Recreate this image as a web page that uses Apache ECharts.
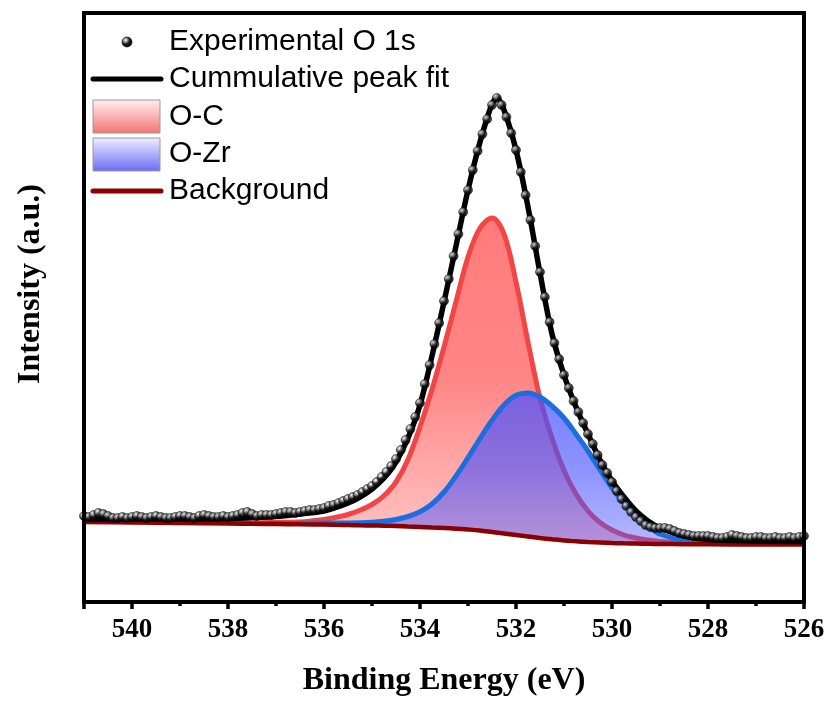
<!DOCTYPE html>
<html>
<head>
<meta charset="utf-8">
<script src="https://cdn.jsdelivr.net/npm/echarts@6/dist/echarts.min.js"></script>
<style>html,body{margin:0;padding:0;background:#fff}#chart{width:833px;height:704px}</style>
</head>
<body>
<div id="chart"></div>
<script>
// ---- data (binding energy in eV, intensity in a.u.) ----
const seriesNames = ['Experimental O 1s', 'Cummulative peak fit', 'O-C', 'O-Zr', 'Background'];
const xTickLabels = [540, 538, 536, 534, 532, 530, 528, 526];

const expE = [541.0,540.9,540.8,540.7,540.6,540.5,540.4,540.3,540.2,540.1,
  540.0,539.9,539.8,539.7,539.6,539.5,539.4,539.3,539.2,539.1,
  539.0,538.9,538.8,538.7,538.6,538.5,538.4,538.3,538.2,538.1,
  538.0,537.9,537.8,537.7,537.6,537.5,537.4,537.3,537.2,537.1,
  537.0,536.9,536.8,536.7,536.6,536.5,536.4,536.3,536.2,536.1,
  536.0,535.9,535.8,535.7,535.6,535.5,535.4,535.3,535.2,535.1,
  535.0,534.9,534.8,534.7,534.6,534.5,534.4,534.3,534.2,534.1,
  534.0,533.9,533.8,533.7,533.6,533.5,533.4,533.3,533.2,533.1,
  533.0,532.9,532.8,532.7,532.6,532.5,532.4,532.3,532.2,532.1,
  532.0,531.9,531.8,531.7,531.6,531.5,531.4,531.3,531.2,531.1,
  531.0,530.9,530.8,530.7,530.6,530.5,530.4,530.3,530.2,530.1,
  530.0,529.9,529.8,529.7,529.6,529.5,529.4,529.3,529.2,529.1,
  529.0,528.9,528.8,528.7,528.6,528.5,528.4,528.3,528.2,528.1,
  528.0,527.9,527.8,527.7,527.6,527.5,527.4,527.3,527.2,527.1,
  527.0,526.9,526.8,526.7,526.6,526.5,526.4,526.3,526.2,526.1,
  526.0];
const expI = [86,85,87,89,88,86,84,84,85,84,
  85,86,85,84,85,86,85,84,84,85,
  86,86,85,84,86,87,86,85,85,86,
  85,86,87,89,90,88,86,87,87,87,
  88,89,90,90,89,90,91,92,92,93,
  94,96,97,99,101,103,105,107,110,113,
  116,120,125,130,136,143,152,162,173,185,
  199,218,237,258,279,301,323,346,368,390,
  412,432,451,468,483,497,504,497,485,469,
  452,430,407,382,356,330,305,280,259,243,
  227,214,201,190,179,168,158,147,137,129,
  120,111,103,96,90,85,81,77,75,74,
  74,74,73,71,69,68,67,66,66,66,
  66,65,64,64,65,67,66,65,64,64,
  65,65,64,64,65,64,64,65,64,65,
  66];

const fitE = [541,540,539,538,537.5,537,536.5,536,535.75,535.5,535.25,535,534.75,534.5,534.25,534,533.75,533.5,533.25,533,532.75,532.5,532.4,532.25,532,531.75,531.5,531.25,531,530.75,530.5,530.25,530,529.75,529.5,529.25,529,528.5,528,527,526];
const fitI = [83,83,83,83.5,84.5,85.5,88,91,94.5,99,105,113,124,140,164,197,246,300,356,412,460,498,504,492,452,395,329,268,227,195,168,142,121,105,91,81,74,66,62.5,61,60.5];

const compE = [541,540,539,538,537.5,537,536.5,536,535.75,535.5,535.25,535,534.75,534.5,534.25,534,533.75,533.5,533.25,533,532.75,532.5,532.25,532,531.75,531.5,531.25,531,530.75,530.5,530.25,530,529.75,529.5,529.25,529,528.5,528,527,526];
const backgroundI = [80,79.5,79,78.5,78.2,78,77.7,77.5,77.2,77,76.7,76.5,76.3,76,75.5,75,74.5,74,73.3,72.5,71.5,70,68.5,67,65.5,64,62.7,61.5,60.7,60,59.5,59,58.7,58.5,58.2,58,57.8,57.7,57.5,57.5];
const ocI = [80.3,79.9,79.5,79.3,79.3,79.6,80,82.5,84.7,87.5,91.7,97.5,106.3,120,142.5,175,212.5,255,300.3,345,374,384,368,320,260,204,164,131.5,108,91,79.5,72,67,64,62,60.5,59.2,58.5,57.8,57.7];
const ozrI = [80.2,79.7,79.2,78.8,78.6,78.6,78.7,79,78.9,79,79.2,79.7,80.8,82.5,85.5,90.2,98,110,126,144.3,163.5,181.8,197,206.7,209,205,196,184,168,151,132,114,99,86,76,68,61.5,59,58,57.7];

// ---- build ----
const chart = echarts.init(document.getElementById('chart'), null, {renderer: 'canvas'});
const G = echarts.graphic;
const pairs = (xs, ys) => xs.map((x, i) => [x, ys[i]]);

const redFill = new G.LinearGradient(0, 0, 0, 1, [
  {offset: 0, color: 'rgba(255,60,60,0.68)'},
  {offset: 0.42, color: 'rgba(255,60,60,0.62)'},
  {offset: 0.75, color: 'rgba(255,60,60,0.37)'},
  {offset: 1, color: 'rgba(255,60,60,0.25)'}
]);
const blueFill = new G.LinearGradient(0, 0, 0, 1, [
  {offset: 0, color: 'rgba(70,80,255,0.72)'},
  {offset: 0.36, color: 'rgba(70,80,255,0.62)'},
  {offset: 0.73, color: 'rgba(70,80,255,0.40)'},
  {offset: 1, color: 'rgba(70,80,255,0.30)'}
]);
const sphere = new G.RadialGradient(0.36, 0.32, 0.7, [
  {offset: 0, color: '#ffffff'},
  {offset: 0.22, color: '#a8a8a8'},
  {offset: 0.55, color: '#1a1a1a'},
  {offset: 1, color: '#000000'}
]);
const SMOOTH = 0.35;
const serif = '"Liberation Serif","Times New Roman",serif';
const sans = '"Liberation Sans", Arial, sans-serif';

const option = {
  animation: false,
  backgroundColor: '#fff',
  grid: {left: 84, right: 29, top: 13, bottom: 102, show: false},
  xAxis: {
    type: 'value', inverse: true, min: 526, max: 541, interval: 2, z: 10,
    name: 'Binding Energy (eV)', nameLocation: 'middle', nameGap: 63,
    nameTextStyle: {fontFamily: serif, fontWeight: 'bold', fontSize: 32, color: '#000'},
    axisLine: {show: true, lineStyle: {color: '#000', width: 4}},
    axisTick: {show: true, inside: false, length: 7, lineStyle: {color: '#000', width: 3.5}},
    minorTick: {show: true, splitNumber: 2, length: 4, lineStyle: {color: '#000', width: 3.5}},
    splitLine: {show: false}, minorSplitLine: {show: false},
    axisLabel: {
      show: true, margin: 15, showMaxLabel: false,
      fontFamily: serif, fontWeight: 'bold', fontSize: 27, color: '#000',
      formatter: v => (xTickLabels.indexOf(v) >= 0 ? String(v) : '')
    }
  },
  yAxis: {
    type: 'value', min: 0, max: 589,
    axisLine: {show: false}, axisTick: {show: false}, axisLabel: {show: false}, splitLine: {show: false}
  },
  series: [
    {name: seriesNames[2], type: 'line', data: pairs(compE, ocI), symbol: 'none', smooth: SMOOTH,
      lineStyle: {color: '#f04646', width: 5}, areaStyle: {color: redFill, opacity: 1}, z: 2},
    {name: seriesNames[3], type: 'line', data: pairs(compE, ozrI), symbol: 'none', smooth: SMOOTH,
      lineStyle: {color: '#1a6ee0', width: 5}, areaStyle: {color: blueFill, opacity: 1}, z: 3},
    {name: seriesNames[4], type: 'line', data: pairs(compE, backgroundI), symbol: 'none', smooth: SMOOTH,
      lineStyle: {color: '#8b0000', width: 4.5}, areaStyle: {color: '#ffffff', opacity: 1}, z: 4},
    {name: seriesNames[1], type: 'line', data: pairs(fitE, fitI), symbol: 'none', smooth: SMOOTH,
      lineStyle: {color: '#000', width: 5.5}, z: 5},
    {name: seriesNames[0], type: 'scatter', data: pairs(expE, expI), symbol: 'circle', symbolSize: 9,
      itemStyle: {color: sphere, borderColor: '#000', borderWidth: 0.6}, z: 6}
  ],
  graphic: {elements: [
    {type: 'rect', shape: {x: 84, y: 13, width: 720, height: 589}, style: {fill: 'none', stroke: '#000', lineWidth: 4}, z: 90},
    {type: 'circle', shape: {cx: 127, cy: 42, r: 5}, style: {fill: sphere, stroke: '#000', lineWidth: 0.6}, z: 100},
    {type: 'line', shape: {x1: 93, y1: 79, x2: 161, y2: 79}, style: {stroke: '#000', lineWidth: 5, lineCap: 'round'}, z: 100},
    {type: 'rect', shape: {x: 93, y: 100, width: 67, height: 33},
      style: {fill: new G.LinearGradient(0, 0, 0, 1, [{offset: 0, color: '#fff0f0'}, {offset: 1, color: '#f57272'}]), stroke: '#9a9a9a', lineWidth: 1}, z: 100},
    {type: 'rect', shape: {x: 93, y: 138, width: 67, height: 33},
      style: {fill: new G.LinearGradient(0, 0, 0, 1, [{offset: 0, color: '#f0f0ff'}, {offset: 1, color: '#6a6af5'}]), stroke: '#9a9a9a', lineWidth: 1}, z: 100},
    {type: 'line', shape: {x1: 93, y1: 191, x2: 161, y2: 191}, style: {stroke: '#8b0000', lineWidth: 5, lineCap: 'round'}, z: 100},
    {type: 'text', x: 169, y: 42, style: {text: seriesNames[0], font: '30px ' + sans, fill: '#000', align: 'left', verticalAlign: 'middle'}, z: 100},
    {type: 'text', x: 169, y: 79, style: {text: seriesNames[1], font: '30px ' + sans, fill: '#000', align: 'left', verticalAlign: 'middle'}, z: 100},
    {type: 'text', x: 169, y: 117, style: {text: seriesNames[2], font: '30px ' + sans, fill: '#000', align: 'left', verticalAlign: 'middle'}, z: 100},
    {type: 'text', x: 169, y: 154, style: {text: seriesNames[3], font: '30px ' + sans, fill: '#000', align: 'left', verticalAlign: 'middle'}, z: 100},
    {type: 'text', x: 169, y: 191, style: {text: seriesNames[4], font: '30px ' + sans, fill: '#000', align: 'left', verticalAlign: 'middle'}, z: 100},
    {type: 'text', x: 31, y: 284, rotation: Math.PI / 2,
      style: {text: 'Intensity (a.u.)', font: 'bold 32px ' + serif, fill: '#000', align: 'center', verticalAlign: 'middle'}, z: 100}
  ]}
};
chart.setOption(option);
</script>
</body>
</html>
